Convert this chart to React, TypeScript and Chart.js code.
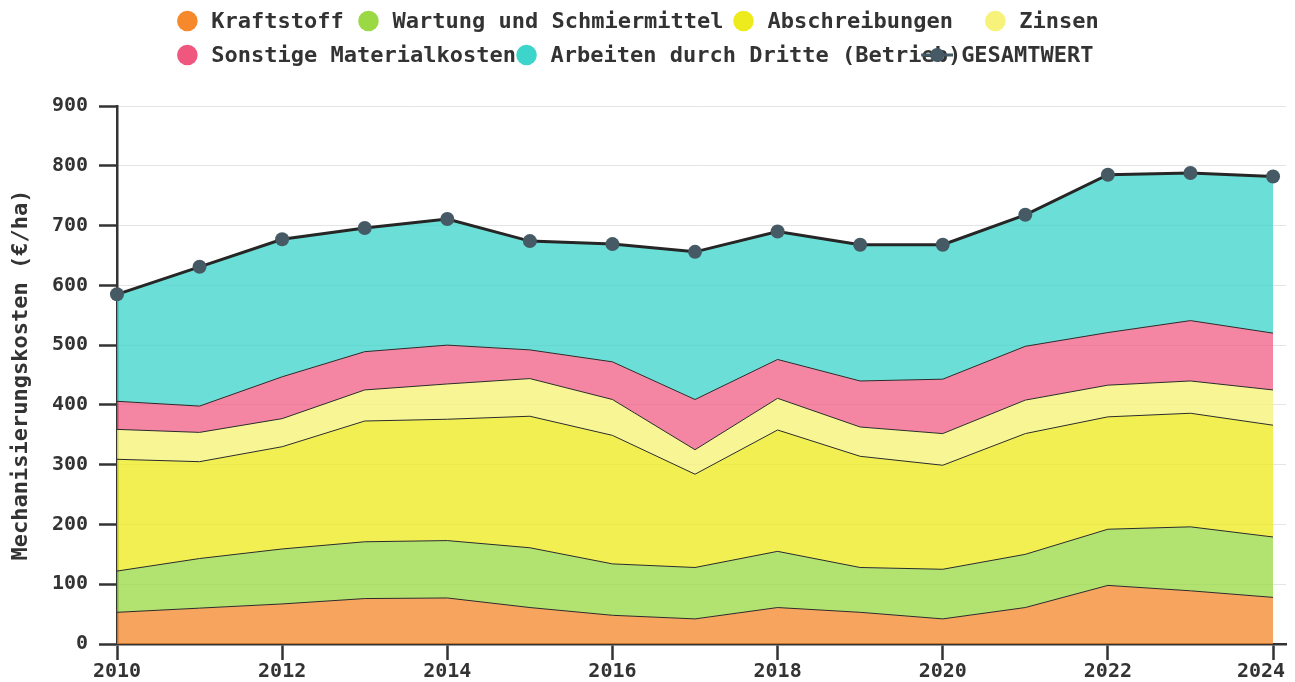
import React, { useEffect, useRef } from "react";
import { Chart, registerables } from "chart.js";

Chart.register(...registerables);

const YEARS = [2010, 2011, 2012, 2013, 2014, 2015, 2016, 2017, 2018, 2019, 2020, 2021, 2022, 2023, 2024];
const X_TICKS = [2010, 2012, 2014, 2016, 2018, 2020, 2022, 2024];

const KRAFTSTOFF = [53, 60, 67, 76, 77, 61, 48, 42, 61, 53, 42, 61, 98, 89, 78];
const WARTUNG = [69, 83, 92, 95, 96, 100, 86, 86, 94, 75, 83, 89, 94, 107, 101];
const ABSCHREIBUNGEN = [187, 162, 171, 202, 203, 220, 215, 156, 203, 186, 174, 202, 188, 190, 187];
const ZINSEN = [50, 49, 47, 52, 59, 63, 60, 41, 53, 49, 53, 56, 53, 54, 59];
const SONSTIGE = [47, 44, 70, 64, 65, 48, 63, 84, 65, 77, 91, 90, 88, 101, 95];
const ARBEITEN = [179, 233, 230, 207, 211, 182, 197, 247, 214, 228, 225, 220, 264, 247, 262];
const GESAMT = [585, 631, 677, 696, 711, 674, 669, 656, 690, 668, 668, 718, 785, 788, 782];

const SERIES_NAMES = [
  "Kraftstoff",
  "Wartung und Schmiermittel",
  "Abschreibungen",
  "Zinsen",
  "Sonstige Materialkosten",
  "Arbeiten durch Dritte (Betrieb)",
];
const TOTAL_NAME = "GESAMTWERT";
const Y_TITLE = "Mechanisierungskosten (€/ha)";

const BASE_COLORS = ["#F5892B", "#9BD944", "#EDEA1E", "#F6F27A", "#F0577F", "#3DD5CB"];
const FILL_COLORS = [
  "rgba(245,137,43,0.76)",
  "rgba(155,217,68,0.77)",
  "rgba(237,234,30,0.77)",
  "rgba(246,242,122,0.8)",
  "rgba(240,87,127,0.72)",
  "rgba(61,213,203,0.76)",
];
const TOTAL_LINE = "#262626";
const TOTAL_POINT = "#455A64";
const MONO = '"DejaVu Sans Mono", monospace';
const TEXT_COLOR = "#333333";

const legendPlugin = {
  id: "customLegend",
  afterDraw(chart: any) {
    const ctx = chart.ctx;
    const W = chart.width;
    const items = SERIES_NAMES.map((n, i) => ({ text: n, color: BASE_COLORS[i], line: false }));
    items.push({ text: TOTAL_NAME, color: TOTAL_POINT, line: true });
    ctx.save();
    ctx.font = 'bold 19px "DejaVu Sans"';
    const widths = items.map((it) => ctx.measureText(it.text).width + 78);
    const rows: number[][] = [[]];
    let rowW = 0;
    const maxW = W;
    items.forEach((_, i) => {
      if (rows[rows.length - 1].length > 0 && rowW + widths[i] > maxW) {
        rows.push([]);
        rowW = 0;
      }
      rows[rows.length - 1].push(i);
      rowW += widths[i];
    });
    const rowWidths = rows.map((r) => r.reduce((s, i) => s + widths[i], 0));
    const start = (W - Math.max(...rowWidths)) / 2;
    ctx.font = "bold 22px " + MONO;
    ctx.textBaseline = "middle";
    ctx.textAlign = "left";
    rows.forEach((r, ri) => {
      const cy = 21 + ri * 34;
      let x = start;
      r.forEach((i) => {
        const it = items[i];
        const cx = x + 28.5;
        if (it.line) {
          ctx.strokeStyle = it.color;
          ctx.lineWidth = 3;
          ctx.beginPath();
          ctx.moveTo(cx - 16, cy);
          ctx.lineTo(cx + 16, cy);
          ctx.stroke();
          ctx.fillStyle = it.color;
          ctx.beginPath();
          ctx.arc(cx, cy, 7, 0, Math.PI * 2);
          ctx.fill();
        } else {
          ctx.fillStyle = it.color;
          ctx.beginPath();
          ctx.arc(cx, cy, 10.3, 0, Math.PI * 2);
          ctx.fill();
        }
        ctx.fillStyle = TEXT_COLOR;
        ctx.fillText(it.text, cx + 24, cy + 1);
        x += widths[i];
      });
    });
    ctx.restore();
  },
};

export default function App() {
  const ref = useRef<HTMLCanvasElement | null>(null);
  useEffect(() => {
    if (!ref.current) return;
    const seriesData = [KRAFTSTOFF, WARTUNG, ABSCHREIBUNGEN, ZINSEN, SONSTIGE, ARBEITEN];
    const datasets: any[] = seriesData.map((arr, i) => ({
      label: SERIES_NAMES[i],
      data: YEARS.map((y, j) => ({ x: y, y: arr[j] })),
      backgroundColor: FILL_COLORS[i],
      borderColor: "#2a2a2a",
      borderWidth: 1,
      pointRadius: 0,
      tension: 0,
      fill: i === 0 ? "origin" : "-1",
      stack: "costs",
      order: 1,
    }));
    datasets.push({
      label: TOTAL_NAME,
      data: YEARS.map((y, j) => ({ x: y, y: GESAMT[j] })),
      borderColor: TOTAL_LINE,
      borderWidth: 3,
      backgroundColor: TOTAL_POINT,
      pointBackgroundColor: TOTAL_POINT,
      pointBorderColor: TOTAL_POINT,
      pointBorderWidth: 0,
      pointRadius: 7,
      tension: 0,
      fill: false,
      stack: "total",
      clip: false,
      order: 0,
    });
    const tickFont = { family: MONO, size: 20, weight: "bold" as const };
    const chart = new Chart(ref.current, {
      type: "line",
      data: { datasets },
      plugins: [legendPlugin],
      options: {
        responsive: true,
        maintainAspectRatio: false,
        animation: false,
        layout: { padding: { top: 106, right: 9, left: 0, bottom: 0 } },
        plugins: { legend: { display: false }, tooltip: { enabled: false } },
        scales: {
          x: {
            type: "linear",
            min: 2010,
            max: 2024.157,
            afterBuildTicks: (s: any) => {
              s.ticks = X_TICKS.map((v) => ({ value: v }));
            },
            afterFit: (s: any) => {
              s.height = 38;
              s.paddingRight = 0;
              s.paddingLeft = 0;
            },
            ticks: {
              font: tickFont,
              color: TEXT_COLOR,
              padding: 0,
              maxRotation: 0,
              autoSkip: false,
              callback: (v: any) => (v === X_TICKS[X_TICKS.length - 1] ? String(v) + "  " : String(v)),
            },
            grid: { drawOnChartArea: false, tickLength: 16, tickColor: "#333", tickWidth: 2.5 },
            border: { color: "#333", width: 2.5 },
          },
          y: {
            stacked: true,
            min: 0,
            max: 900,
            afterFit: (s: any) => {
              s.width = 117;
            },
            ticks: { stepSize: 100, font: tickFont, color: TEXT_COLOR, padding: 11 },
            grid: { color: "#e4e4e4", lineWidth: 1, tickColor: "#333", tickLength: 18, tickWidth: 2.5 },
            border: { color: "#333", width: 2.5 },
            title: {
              display: true,
              text: Y_TITLE,
              color: TEXT_COLOR,
              font: { family: MONO, size: 22, weight: "bold" },
              padding: { top: 8, bottom: 0 },
            },
          },
        },
      },
    });
    return () => chart.destroy();
  }, []);
  return (
    <div style={{ position: "fixed", left: 0, top: 0, width: 1295, height: 682, background: "#fff" }}>
      <canvas ref={ref} />
    </div>
  );
}
